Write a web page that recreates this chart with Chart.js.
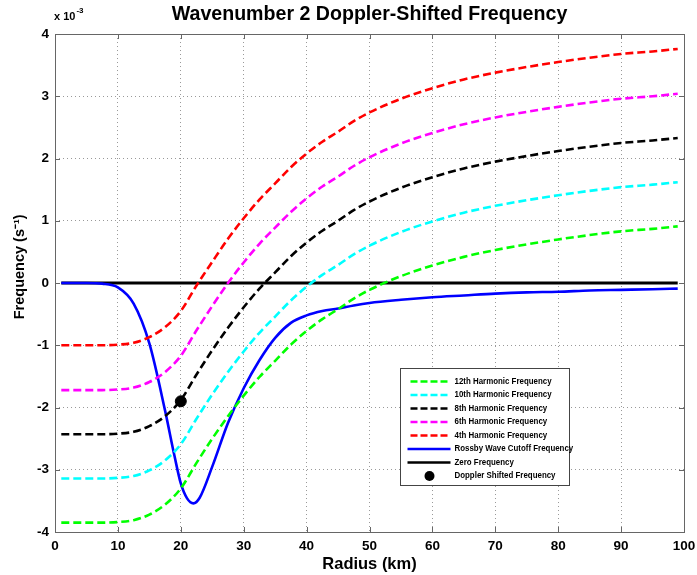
<!DOCTYPE html>
<html><head><meta charset="utf-8">
<script src="https://cdn.jsdelivr.net/npm/chart.js@4/dist/chart.umd.min.js"></script>
<style>html,body{margin:0;padding:0;background:#fff}</style>
</head><body>
<canvas id="c" width="697" height="575"></canvas>
<script>
// Radius (km)
const radius = [1,2.5,5,7.5,10,12.5,15,17.5,20,22.5,25,27.5,30,32.5,35,37.5,40,42.5,45,47.5,50,55,60,65,70,75,80,85,90,95,99];
// Frequencies in units of 1e-3 s^-1
const harm4  = [-1.00,-1.00,-1.00,-1.00,-0.99,-0.96,-0.87,-0.71,-0.45,-0.04,0.34,0.71,1.04,1.34,1.60,1.86,2.08,2.27,2.43,2.60,2.74,2.96,3.13,3.27,3.38,3.47,3.55,3.62,3.68,3.72,3.76];
const harm6  = [-1.72,-1.72,-1.72,-1.72,-1.71,-1.68,-1.59,-1.43,-1.17,-0.76,-0.37,0.00,0.33,0.63,0.89,1.14,1.36,1.55,1.71,1.88,2.02,2.24,2.41,2.55,2.66,2.75,2.83,2.90,2.96,3.00,3.04];
const harm8  = [-2.43,-2.43,-2.43,-2.43,-2.42,-2.39,-2.30,-2.14,-1.88,-1.47,-1.08,-0.72,-0.39,-0.09,0.17,0.43,0.65,0.84,1.00,1.17,1.31,1.53,1.70,1.84,1.95,2.04,2.12,2.19,2.25,2.29,2.33];
const harm10 = [-3.14,-3.14,-3.14,-3.14,-3.13,-3.10,-3.01,-2.85,-2.59,-2.18,-1.79,-1.43,-1.10,-0.80,-0.54,-0.28,-0.06,0.13,0.29,0.46,0.60,0.82,0.99,1.13,1.24,1.33,1.41,1.48,1.54,1.58,1.62];
const harm12 = [-3.85,-3.85,-3.85,-3.85,-3.84,-3.81,-3.72,-3.56,-3.30,-2.89,-2.50,-2.14,-1.81,-1.51,-1.25,-0.99,-0.77,-0.58,-0.42,-0.25,-0.11,0.11,0.28,0.42,0.53,0.62,0.70,0.77,0.83,0.87,0.91];
const rossbyRadius = [1,2.5,5,7.5,10,12.5,15,17.5,19,20,21,22,23,25,27.5,30,32.5,35,37.5,40,42.5,45,47.5,50,55,60,65,70,75,80,85,90,95,99];
const rossby = [0,0,0,-0.01,-0.07,-0.33,-0.97,-2.05,-2.78,-3.22,-3.46,-3.54,-3.45,-2.95,-2.25,-1.69,-1.24,-0.88,-0.64,-0.52,-0.45,-0.41,-0.36,-0.32,-0.27,-0.23,-0.20,-0.17,-0.15,-0.14,-0.12,-0.11,-0.10,-0.09];
const zeroRadius = [1,99];
const zeroFreq = [0,0];
const dopplerRadius = [20];
const dopplerFreq = [-1.9];
const xTicks = [0,10,20,30,40,50,60,70,80,90,100];
const yTicks = [-4,-3,-2,-1,0,1,2,3,4];
const legendLabels = ['12th Harmonic Frequency','10th Harmonic Frequency','8th Harmonic Frequency','6th Harmonic Frequency','4th Harmonic Frequency','Rossby Wave Cutoff Frequency','Zero Frequency','Doppler Shifted Frequency'];
const titleText = 'Wavenumber 2 Doppler-Shifted Frequency';
const xTitle = 'Radius (km)';
const yTitle = 'Frequency (s\u207B\u00B9)';

const FONT = '"Liberation Sans", Arial, Helvetica, sans-serif';
const pts = (xs, ys) => xs.map((x, i) => ({x, y: ys[i]}));
const dashed = (label, color, xs, ys) => ({label, data: pts(xs, ys), borderColor: color, backgroundColor: color,
  borderWidth: 2.6, borderDash: [8, 4], showLine: true, pointRadius: 0, cubicInterpolationMode: 'monotone', fill: false});

const datasets = [
  dashed(legendLabels[0], '#00ff00', radius, harm12),
  dashed(legendLabels[1], '#00ffff', radius, harm10),
  dashed(legendLabels[2], '#000000', radius, harm8),
  dashed(legendLabels[3], '#ff00ff', radius, harm6),
  dashed(legendLabels[4], '#ff0000', radius, harm4),
  {label: legendLabels[5], data: pts(rossbyRadius, rossby), borderColor: '#0000ff', backgroundColor: '#0000ff', borderWidth: 2.6, showLine: true, pointRadius: 0, cubicInterpolationMode: 'monotone', fill: false},
  {label: legendLabels[6], data: pts(zeroRadius, zeroFreq), borderColor: '#000000', backgroundColor: '#000000', borderWidth: 2.8, showLine: true, pointRadius: 0, fill: false},
  {label: legendLabels[7], data: pts(dopplerRadius, dopplerFreq), borderColor: '#000000', backgroundColor: '#000000', showLine: false, pointRadius: 5.5, pointHoverRadius: 5.5}
];

const decor = {
  id: 'decor',
  beforeDatasetsDraw(chart) {
    const {ctx, chartArea: a, scales: {x, y}} = chart;
    ctx.save();
    ctx.strokeStyle = '#666';
    ctx.lineWidth = 1;
    ctx.beginPath();
    xTicks.forEach(v => { const p = Math.round(x.getPixelForValue(v)) + 0.5;
      ctx.moveTo(p, a.bottom); ctx.lineTo(p, a.bottom - 5); ctx.moveTo(p, a.top); ctx.lineTo(p, a.top + 5); });
    yTicks.forEach(v => { const p = Math.round(y.getPixelForValue(v)) + 0.5;
      ctx.moveTo(a.left, p); ctx.lineTo(a.left + 5, p); ctx.moveTo(a.right, p); ctx.lineTo(a.right - 5, p); });
    ctx.stroke();
    ctx.strokeRect(Math.round(a.left) + 0.5, Math.round(a.top) + 0.5, Math.round(a.right - a.left), Math.round(a.bottom - a.top));
    ctx.restore();
  },
  afterDraw(chart) {
    const {ctx, chartArea: a, scales: {x, y}} = chart;
    ctx.save();
    ctx.fillStyle = '#000';
    // y axis title
    ctx.save();
    ctx.translate(20, y.getPixelForValue(0.26));
    ctx.rotate(-Math.PI / 2);
    ctx.font = 'bold 14.5px ' + FONT;
    ctx.textAlign = 'center';
    ctx.textBaseline = 'middle';
    ctx.fillText(yTitle, 0, 0);
    ctx.restore();
    // exponent label
    ctx.textBaseline = 'alphabetic';
    ctx.textAlign = 'left';
    ctx.font = 'bold 11px ' + FONT;
    ctx.fillText('x 10', a.left - 1, a.top - 14);
    const w = ctx.measureText('x 10').width;
    ctx.font = 'bold 8px ' + FONT;
    ctx.fillText('-3', a.left + w, a.top - 21);
    // legend
    const L = Math.round(x.getPixelForValue(54.9)) + 0.5, R = Math.round(x.getPixelForValue(81.7)) + 0.5;
    const T = Math.round(y.getPixelForValue(-1.37)) + 0.5, B = Math.round(y.getPixelForValue(-3.25)) + 0.5;
    ctx.fillStyle = '#fff';
    ctx.fillRect(L, T, R - L, B - T);
    ctx.strokeStyle = '#444';
    ctx.lineWidth = 1;
    ctx.strokeRect(L, T, R - L, B - T);
    ctx.font = 'bold 8.5px ' + FONT;
    ctx.textBaseline = 'middle';
    chart.data.datasets.forEach((ds, i) => {
      const cy = T + 13 + i * 13.5;
      if (ds.showLine) {
        ctx.strokeStyle = ds.borderColor;
        ctx.lineWidth = 2.6;
        if (ds.borderDash) { ctx.setLineDash([7, 3]); ctx.beginPath(); ctx.moveTo(L + 10, cy); ctx.lineTo(L + 50, cy); ctx.stroke(); }
        else { ctx.setLineDash([]); ctx.beginPath(); ctx.moveTo(L + 7, cy); ctx.lineTo(L + 50, cy); ctx.stroke(); }
        ctx.setLineDash([]);
      } else {
        ctx.fillStyle = ds.backgroundColor;
        ctx.beginPath(); ctx.arc(L + 29, cy, 5, 0, Math.PI * 2); ctx.fill();
      }
      ctx.fillStyle = '#000';
      ctx.save();
      ctx.translate(L + 54, cy);
      ctx.scale(0.93, 1);
      ctx.fillText(ds.label, 0, 0);
      ctx.restore();
    });
    ctx.restore();
  }
};

new Chart(document.getElementById('c'), {
  type: 'scatter',
  data: {datasets},
  options: {
    responsive: false,
    animation: false,
    events: [],
    layout: {padding: {left: 0, right: 13, top: 0, bottom: 0}},
    plugins: {
      legend: {display: false},
      tooltip: {enabled: false},
      title: {display: true, fullSize: false, text: titleText, color: '#000',
        font: {family: FONT, size: 19.6, weight: 'bold'}, padding: {top: 2.5, bottom: 8}}
    },
    scales: {
      x: {
        type: 'linear', min: 0, max: 100,
        afterFit(s) { s.height = 43; s.paddingLeft = 0; s.paddingRight = 0; },
        afterBuildTicks(s) { s.ticks = xTicks.map(v => ({value: v})); },
        ticks: {color: '#000', font: {family: FONT, size: 13.5, weight: 'bold'}, padding: 6, maxRotation: 0, callback: v => String(v)},
        grid: {color: '#999', drawTicks: false, lineWidth: 1},
        border: {display: false, dash: [1, 3]},
        title: {display: true, text: xTitle, color: '#000', font: {family: FONT, size: 16.5, weight: 'bold'}, padding: {top: 1, bottom: 1}}
      },
      y: {
        type: 'linear', min: -4, max: 4,
        afterFit(s) { s.width = 55; s.paddingTop = 0; s.paddingBottom = 0; },
        afterBuildTicks(s) { s.ticks = yTicks.map(v => ({value: v})); },
        ticks: {color: '#000', font: {family: FONT, size: 13.5, weight: 'bold'}, padding: 6, callback: v => String(v)},
        grid: {color: '#999', drawTicks: false, lineWidth: 1},
        border: {display: false, dash: [1, 3]},
        title: {display: false}
      }
    }
  },
  plugins: [decor]
});
</script>
</body></html>
